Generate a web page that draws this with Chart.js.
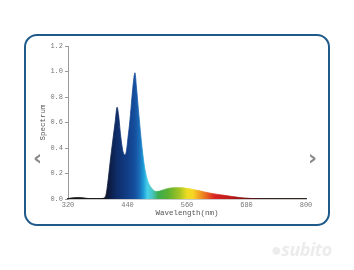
<!DOCTYPE html>
<html>
<head>
<meta charset="utf-8">
<script src="https://cdn.jsdelivr.net/npm/chart.js@4/dist/chart.umd.min.js"></script>
<style>
  html, body { margin: 0; padding: 0; background: #fff; }
  #wrap { position: relative; width: 354px; height: 270px; overflow: hidden; }
  #frame { position: absolute; left: 24px; top: 34px; width: 302px; height: 188px;
    border: 2px solid #1f5a8a; border-radius: 13px; }
  canvas { position: absolute; left: 0; top: 0; }
  .arrow { position: absolute; top: 145px; font: bold 22px "DejaVu Sans", sans-serif; color: #8a8a8a; }
  #mark { position: absolute; left: 271px; top: 237px; font: italic bold 18px "Open Sans", sans-serif;
    color: #ececec; letter-spacing: -0.5px; }
</style>
</head>
<body>
<div id="wrap">
  <div id="frame"></div>
  <canvas id="spec" width="354" height="270"></canvas>
  <div class="arrow" style="left:33px">&#8249;</div>
  <div class="arrow" style="left:308px">&#8250;</div>
  <div id="mark">&#9679;subito</div>
</div>
<script>
// spectrum
const wavelengths = [320,330,340,350,360,370,380,390,394,397,400,405,410,415,419,422,425,428,431,435,438,441,445,449,452,455,458,462,466,470,474,478,483,488,493,498,505,515,525,535,545,555,565,575,585,595,605,615,625,635,645,655,665,675,685,695,710,730,760,800];
const spectrum    = [0.004,0.009,0.011,0.009,0.004,0.002,0.002,0.005,0.012,0.04,0.12,0.29,0.45,0.6,0.72,0.66,0.54,0.44,0.37,0.345,0.38,0.48,0.62,0.8,0.92,0.99,0.88,0.7,0.53,0.38,0.26,0.18,0.12,0.088,0.066,0.058,0.062,0.075,0.085,0.089,0.089,0.086,0.08,0.072,0.064,0.055,0.047,0.04,0.034,0.029,0.023,0.017,0.012,0.008,0.005,0.003,0.001,0,0,0];
const xTicks = [320,440,560,680,800];
const yMax = 1.2;

// wavelength -> colour stops for the fill
const colourStops = [
  [320,'#151515'],[390,'#151515'],[402,'#0c1a3e'],[418,'#0e2c68'],[440,'#123e88'],
  [455,'#154f9e'],[464,'#1a6cb8'],[472,'#1e9ad6'],[480,'#46d0ea'],[490,'#48c6c0'],
  [502,'#3cac52'],[522,'#5cb030'],[545,'#a6c424'],[560,'#ecdc22'],[572,'#f6d624'],
  [586,'#f09c22'],[600,'#e86422'],[616,'#d82222'],[648,'#bf1818'],[680,'#7a1010'],[720,'#3a1010'],[800,'#3a1010']
];

function spectrumFill(ctx){
  const c = ctx.chart;
  const area = c.chartArea;
  if (!area) return '#1450a0';
  const xs = c.scales.x;
  const g = c.ctx.createLinearGradient(area.left, 0, area.right, 0);
  const w = area.right - area.left;
  colourStops.forEach(([nm, col]) => {
    const p = (xs.getPixelForValue(nm) - area.left) / w;
    g.addColorStop(Math.min(1, Math.max(0, p)), col);
  });
  return g;
}

const monoTick = { family: '"Liberation Mono", "DejaVu Sans Mono", monospace', size: 7 };

new Chart(document.getElementById('spec').getContext('2d'), {
  type: 'line',
  data: {
    datasets: [{
      data: wavelengths.map((w, i) => ({ x: w, y: spectrum[i] })),
      fill: 'origin',
      backgroundColor: spectrumFill,
      borderColor: spectrumFill,
      borderWidth: 0.8,
      pointRadius: 0,
      cubicInterpolationMode: 'monotone'
    }]
  },
  options: {
    responsive: false,
    animation: false,
    layout: { padding: { top: 46, right: 48, left: 0, bottom: 0 } },
    plugins: { legend: { display: false }, tooltip: { enabled: false } },
    scales: {
      x: {
        type: 'linear', min: 320, max: 800,
        afterBuildTicks: s => { s.ticks = xTicks.map(v => ({ value: v })); },
        afterFit: s => { s.height = 71; },
        grid: { drawOnChartArea: false, drawTicks: false },
        border: { color: '#333', width: 1.2 },
        ticks: { color: '#777', font: monoTick, padding: 2, maxRotation: 0 },
        title: { display: true, text: 'Wavelength(nm)', color: '#555', font: { family: monoTick.family, size: 7.5 }, padding: { bottom: 52 } }
      },
      y: {
        min: 0, max: yMax,
        afterFit: s => { s.width = 68; },
        grid: { drawOnChartArea: false, tickLength: 3, color: '#999' },
        border: { color: '#999', width: 1 },
        ticks: { stepSize: 0.2, color: '#777', font: monoTick, padding: 2, callback: v => Number(v).toFixed(1) },
        title: { display: true, text: 'Spectrum', color: '#555', font: { family: monoTick.family, size: 7.5 }, padding: { top: 39 } }
      }
    }
  }
});
</script>
</body>
</html>
